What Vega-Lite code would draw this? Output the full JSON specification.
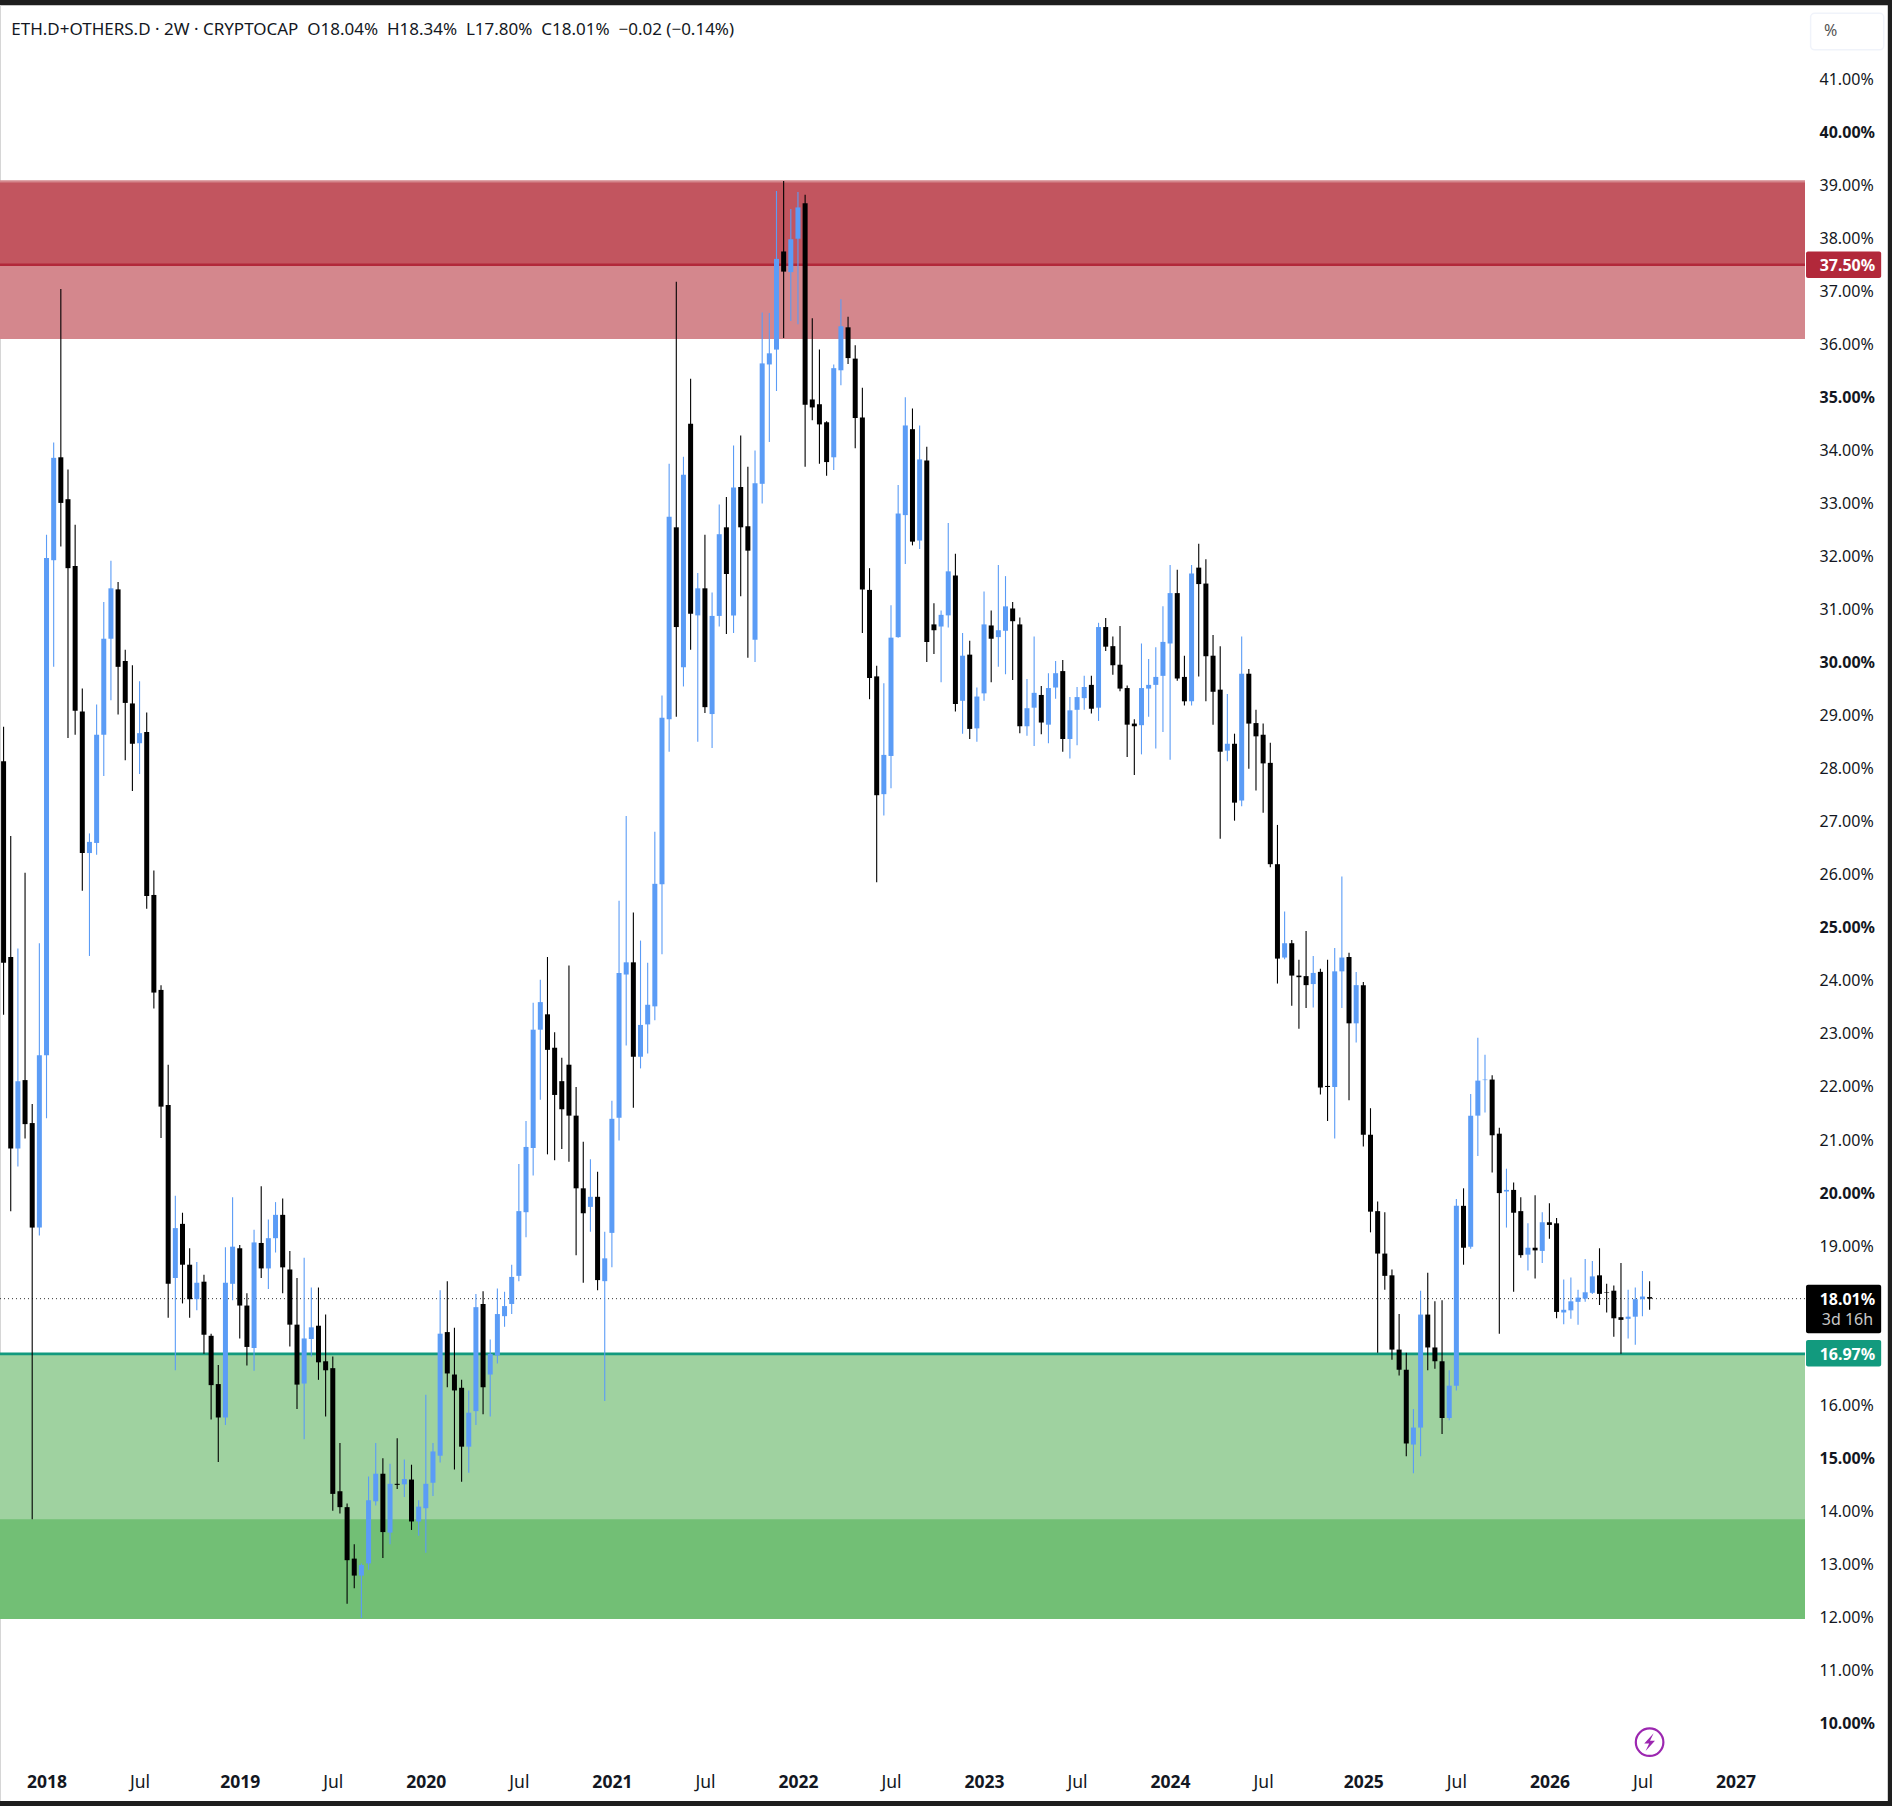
{
  "$schema": "https://vega.github.io/schema/vega-lite/v6.json",
  "width": 1805,
  "height": 1755,
  "autosize": "none",
  "padding": {"left": 0, "top": 0, "right": 87, "bottom": 51},
  "background": "#1e1e1e",
  "config": {
    "view": {"stroke": null},
    "font": "Noto Sans"
  },
  "datasets": {
    "panels": [
      {"name": "frame", "from": "2017-10-02", "to": "2027-11-12", "top": 42.39, "bottom": 8.54},
      {"name": "edge", "from": "2017-10-02", "to": "2017-10-04", "top": 42.39, "bottom": 8.54},
      {"name": "supply", "from": "2017-10-02", "to": "2027-06-03", "top": 39.09, "bottom": 36.1},
      {"name": "supply core", "from": "2017-10-02", "to": "2027-06-03", "top": 39.05, "bottom": 37.5},
      {"name": "demand", "from": "2017-10-02", "to": "2027-06-03", "top": 16.97, "bottom": 11.97},
      {"name": "demand core", "from": "2017-10-02", "to": "2027-06-03", "top": 13.85, "bottom": 11.97}
    ],
    "tags": [
      {"name": "red line", "from": "2027-06-05", "to": "2027-10-30", "top": 37.75, "bottom": 37.25},
      {"name": "green line", "from": "2027-06-05", "to": "2027-10-30", "top": 17.23, "bottom": 16.73},
      {"name": "last", "from": "2027-06-05", "to": "2027-10-30", "top": 18.27, "bottom": 17.36}
    ],
    "levels": [
      {"name": "red line", "from": "2017-10-02", "to": "2027-06-03", "level": 37.5},
      {"name": "green line", "from": "2017-10-02", "to": "2027-06-03", "level": 16.97}
    ],
    "lastPrice": [
      {"from": "2017-10-02", "to": "2027-06-03", "level": 18.01}
    ],
    "tagText": [
      {"at": "2027-08-25", "level": 37.5, "label": "37.50%"},
      {"at": "2027-08-25", "level": 18.01, "label": "18.01%"},
      {"at": "2027-08-25", "level": 16.97, "label": "16.97%"}
    ],
    "candles": [
      {"d":"2017-10-09","o":28.14,"h":28.79,"l":23.36,"c":24.34},
      {"d":"2017-10-23","o":24.45,"h":26.73,"l":19.66,"c":20.84},
      {"d":"2017-11-06","o":20.84,"h":24.61,"l":20.50,"c":22.11},
      {"d":"2017-11-20","o":22.13,"h":26.04,"l":21.03,"c":21.30},
      {"d":"2017-12-04","o":21.32,"h":21.68,"l":13.85,"c":19.35},
      {"d":"2017-12-18","o":19.35,"h":24.71,"l":19.20,"c":22.60},
      {"d":"2018-01-01","o":22.60,"h":32.41,"l":21.41,"c":31.97},
      {"d":"2018-01-15","o":31.93,"h":34.15,"l":29.92,"c":33.86},
      {"d":"2018-01-29","o":33.87,"h":37.04,"l":32.19,"c":33.01},
      {"d":"2018-02-12","o":33.08,"h":33.64,"l":28.58,"c":31.78},
      {"d":"2018-02-26","o":31.82,"h":32.60,"l":28.64,"c":29.09},
      {"d":"2018-03-12","o":29.08,"h":29.51,"l":25.70,"c":26.41},
      {"d":"2018-03-26","o":26.41,"h":26.78,"l":24.47,"c":26.62},
      {"d":"2018-04-09","o":26.60,"h":29.21,"l":26.38,"c":28.64},
      {"d":"2018-04-23","o":28.64,"h":31.14,"l":27.86,"c":30.45},
      {"d":"2018-05-07","o":30.45,"h":31.92,"l":29.29,"c":31.40},
      {"d":"2018-05-21","o":31.38,"h":31.52,"l":29.02,"c":29.92},
      {"d":"2018-06-04","o":30.03,"h":30.24,"l":28.16,"c":29.24},
      {"d":"2018-06-18","o":29.23,"h":29.95,"l":27.58,"c":28.47},
      {"d":"2018-07-02","o":28.48,"h":29.65,"l":27.90,"c":28.67},
      {"d":"2018-07-16","o":28.69,"h":29.06,"l":25.36,"c":25.60},
      {"d":"2018-07-30","o":25.62,"h":26.08,"l":23.48,"c":23.78},
      {"d":"2018-08-13","o":23.83,"h":23.92,"l":21.04,"c":21.63},
      {"d":"2018-08-27","o":21.66,"h":22.42,"l":17.65,"c":18.29},
      {"d":"2018-09-10","o":18.40,"h":19.95,"l":16.66,"c":19.34},
      {"d":"2018-09-24","o":19.42,"h":19.63,"l":17.92,"c":18.65},
      {"d":"2018-10-08","o":18.65,"h":18.96,"l":17.65,"c":18.00},
      {"d":"2018-10-22","o":18.00,"h":18.70,"l":17.79,"c":18.31},
      {"d":"2018-11-05","o":18.33,"h":18.46,"l":16.97,"c":17.33},
      {"d":"2018-11-19","o":17.31,"h":17.35,"l":15.73,"c":16.38},
      {"d":"2018-12-03","o":16.40,"h":16.76,"l":14.93,"c":15.77},
      {"d":"2018-12-17","o":15.77,"h":18.98,"l":15.63,"c":18.31},
      {"d":"2018-12-31","o":18.29,"h":19.92,"l":17.98,"c":18.99},
      {"d":"2019-01-14","o":18.96,"h":19.02,"l":17.26,"c":17.88},
      {"d":"2019-01-28","o":17.88,"h":18.11,"l":16.75,"c":17.10},
      {"d":"2019-02-11","o":17.08,"h":19.31,"l":16.65,"c":19.07},
      {"d":"2019-02-25","o":19.06,"h":20.13,"l":18.40,"c":18.58},
      {"d":"2019-03-11","o":18.58,"h":19.50,"l":18.19,"c":19.15},
      {"d":"2019-03-25","o":19.15,"h":19.83,"l":18.88,"c":19.59},
      {"d":"2019-04-08","o":19.59,"h":19.90,"l":18.11,"c":18.60},
      {"d":"2019-04-22","o":18.56,"h":18.91,"l":17.11,"c":17.52},
      {"d":"2019-05-06","o":17.52,"h":18.40,"l":15.93,"c":16.39},
      {"d":"2019-05-20","o":16.41,"h":18.78,"l":15.36,"c":17.26},
      {"d":"2019-06-03","o":17.25,"h":18.22,"l":16.92,"c":17.47},
      {"d":"2019-06-17","o":17.50,"h":18.22,"l":16.48,"c":16.81},
      {"d":"2019-07-01","o":16.83,"h":17.71,"l":15.79,"c":16.66},
      {"d":"2019-07-15","o":16.70,"h":16.92,"l":14.01,"c":14.33},
      {"d":"2019-07-29","o":14.38,"h":15.29,"l":13.96,"c":14.08},
      {"d":"2019-08-12","o":14.08,"h":14.15,"l":12.26,"c":13.08},
      {"d":"2019-08-26","o":13.11,"h":13.38,"l":12.55,"c":12.79},
      {"d":"2019-09-09","o":12.79,"h":13.02,"l":11.99,"c":12.99},
      {"d":"2019-09-23","o":13.02,"h":14.66,"l":12.90,"c":14.21},
      {"d":"2019-10-07","o":14.19,"h":15.29,"l":14.11,"c":14.71},
      {"d":"2019-10-21","o":14.71,"h":15.00,"l":13.12,"c":13.61},
      {"d":"2019-11-04","o":13.60,"h":14.90,"l":13.38,"c":14.52},
      {"d":"2019-11-18","o":14.52,"h":15.38,"l":14.42,"c":14.50},
      {"d":"2019-12-02","o":14.51,"h":14.98,"l":14.27,"c":14.61},
      {"d":"2019-12-16","o":14.60,"h":14.88,"l":13.65,"c":13.81},
      {"d":"2019-12-30","o":13.81,"h":14.21,"l":13.54,"c":14.09},
      {"d":"2020-01-13","o":14.06,"h":16.20,"l":13.22,"c":14.52},
      {"d":"2020-01-27","o":14.54,"h":15.29,"l":14.29,"c":15.13},
      {"d":"2020-02-10","o":15.05,"h":18.17,"l":14.92,"c":17.35},
      {"d":"2020-02-24","o":17.38,"h":18.34,"l":16.34,"c":16.60},
      {"d":"2020-03-09","o":16.58,"h":17.46,"l":14.79,"c":16.28},
      {"d":"2020-03-23","o":16.33,"h":16.48,"l":14.56,"c":15.22},
      {"d":"2020-04-06","o":15.22,"h":16.28,"l":14.73,"c":15.86},
      {"d":"2020-04-20","o":15.89,"h":18.10,"l":15.63,"c":17.85},
      {"d":"2020-05-04","o":17.91,"h":18.15,"l":15.83,"c":16.34},
      {"d":"2020-05-18","o":16.58,"h":17.24,"l":15.79,"c":16.97},
      {"d":"2020-06-01","o":16.94,"h":18.20,"l":16.79,"c":17.72},
      {"d":"2020-06-15","o":17.68,"h":18.14,"l":17.48,"c":17.87},
      {"d":"2020-06-29","o":17.91,"h":18.65,"l":17.72,"c":18.42},
      {"d":"2020-07-13","o":18.44,"h":20.55,"l":18.34,"c":19.66},
      {"d":"2020-07-27","o":19.64,"h":21.36,"l":19.17,"c":20.87},
      {"d":"2020-08-10","o":20.85,"h":23.59,"l":20.33,"c":23.08},
      {"d":"2020-08-24","o":23.08,"h":24.02,"l":21.76,"c":23.60},
      {"d":"2020-09-07","o":23.37,"h":24.45,"l":20.73,"c":22.70},
      {"d":"2020-09-21","o":22.74,"h":23.03,"l":20.62,"c":21.85},
      {"d":"2020-10-05","o":22.11,"h":22.55,"l":20.83,"c":21.58},
      {"d":"2020-10-19","o":22.42,"h":24.29,"l":20.59,"c":21.46},
      {"d":"2020-11-02","o":21.46,"h":22.00,"l":18.83,"c":20.09},
      {"d":"2020-11-16","o":20.09,"h":20.97,"l":18.31,"c":19.62},
      {"d":"2020-11-30","o":19.74,"h":20.64,"l":19.27,"c":19.93},
      {"d":"2020-12-14","o":19.93,"h":20.40,"l":18.17,"c":18.36},
      {"d":"2020-12-28","o":18.34,"h":19.27,"l":16.08,"c":18.77},
      {"d":"2021-01-11","o":19.25,"h":21.74,"l":18.60,"c":21.40},
      {"d":"2021-01-25","o":21.42,"h":25.51,"l":20.99,"c":24.15},
      {"d":"2021-02-08","o":24.12,"h":27.11,"l":22.78,"c":24.35},
      {"d":"2021-02-22","o":24.35,"h":25.29,"l":21.61,"c":22.57},
      {"d":"2021-03-08","o":22.57,"h":24.76,"l":22.35,"c":23.17},
      {"d":"2021-03-22","o":23.18,"h":24.34,"l":22.63,"c":23.55},
      {"d":"2021-04-05","o":23.52,"h":26.81,"l":23.26,"c":25.83},
      {"d":"2021-04-19","o":25.82,"h":29.38,"l":24.50,"c":28.96},
      {"d":"2021-05-03","o":28.93,"h":33.75,"l":28.32,"c":32.75},
      {"d":"2021-05-17","o":32.55,"h":37.18,"l":28.98,"c":30.67},
      {"d":"2021-05-31","o":29.91,"h":33.88,"l":29.55,"c":33.54},
      {"d":"2021-06-14","o":34.50,"h":35.35,"l":30.24,"c":30.92},
      {"d":"2021-06-28","o":30.89,"h":31.69,"l":28.51,"c":31.40},
      {"d":"2021-07-12","o":31.40,"h":32.41,"l":29.05,"c":29.16},
      {"d":"2021-07-26","o":29.03,"h":31.32,"l":28.39,"c":30.88},
      {"d":"2021-08-09","o":30.88,"h":32.98,"l":30.68,"c":32.42},
      {"d":"2021-08-23","o":32.55,"h":33.12,"l":30.54,"c":31.67},
      {"d":"2021-09-06","o":30.89,"h":34.09,"l":30.56,"c":33.30},
      {"d":"2021-09-20","o":33.31,"h":34.28,"l":31.25,"c":32.55},
      {"d":"2021-10-04","o":32.57,"h":33.69,"l":30.09,"c":32.11},
      {"d":"2021-10-18","o":30.43,"h":34.00,"l":30.01,"c":33.38},
      {"d":"2021-11-01","o":33.37,"h":36.60,"l":33.00,"c":35.64},
      {"d":"2021-11-15","o":35.62,"h":36.59,"l":34.16,"c":35.83},
      {"d":"2021-11-29","o":35.90,"h":38.89,"l":35.12,"c":37.61},
      {"d":"2021-12-13","o":37.75,"h":39.08,"l":36.12,"c":37.37},
      {"d":"2021-12-27","o":37.36,"h":38.55,"l":36.44,"c":37.98},
      {"d":"2022-01-10","o":37.99,"h":38.87,"l":36.38,"c":38.58},
      {"d":"2022-01-24","o":38.66,"h":38.82,"l":33.69,"c":34.86},
      {"d":"2022-02-07","o":34.96,"h":36.49,"l":34.57,"c":34.81},
      {"d":"2022-02-21","o":34.87,"h":35.90,"l":33.75,"c":34.49},
      {"d":"2022-03-07","o":34.53,"h":34.55,"l":33.52,"c":33.78},
      {"d":"2022-03-21","o":33.87,"h":35.62,"l":33.63,"c":35.55},
      {"d":"2022-04-04","o":35.51,"h":36.85,"l":35.23,"c":36.34},
      {"d":"2022-04-18","o":36.32,"h":36.52,"l":35.63,"c":35.74},
      {"d":"2022-05-02","o":35.73,"h":35.98,"l":34.04,"c":34.61},
      {"d":"2022-05-16","o":34.62,"h":35.18,"l":30.56,"c":31.38},
      {"d":"2022-05-30","o":31.37,"h":31.78,"l":29.31,"c":29.71},
      {"d":"2022-06-13","o":29.74,"h":29.94,"l":25.86,"c":27.50},
      {"d":"2022-06-27","o":27.52,"h":29.61,"l":27.12,"c":28.26},
      {"d":"2022-07-11","o":28.24,"h":31.08,"l":27.63,"c":30.47},
      {"d":"2022-07-25","o":30.48,"h":33.35,"l":30.47,"c":32.81},
      {"d":"2022-08-08","o":32.78,"h":35.00,"l":31.86,"c":34.47},
      {"d":"2022-08-22","o":34.40,"h":34.79,"l":32.21,"c":32.28},
      {"d":"2022-09-05","o":32.30,"h":34.47,"l":32.14,"c":33.83},
      {"d":"2022-09-19","o":33.81,"h":34.07,"l":30.01,"c":30.39},
      {"d":"2022-10-03","o":30.72,"h":31.12,"l":30.16,"c":30.61},
      {"d":"2022-10-17","o":30.68,"h":30.98,"l":29.63,"c":30.90},
      {"d":"2022-10-31","o":30.89,"h":32.63,"l":30.66,"c":31.72},
      {"d":"2022-11-14","o":31.64,"h":32.05,"l":29.08,"c":29.22},
      {"d":"2022-11-28","o":29.28,"h":30.56,"l":28.66,"c":30.13},
      {"d":"2022-12-12","o":30.15,"h":30.41,"l":28.56,"c":28.75},
      {"d":"2022-12-26","o":28.76,"h":29.53,"l":28.51,"c":29.36},
      {"d":"2023-01-09","o":29.42,"h":31.34,"l":29.28,"c":30.72},
      {"d":"2023-01-23","o":30.70,"h":30.98,"l":29.63,"c":30.45},
      {"d":"2023-02-06","o":30.48,"h":31.84,"l":29.92,"c":30.61},
      {"d":"2023-02-20","o":30.60,"h":31.63,"l":29.78,"c":31.06},
      {"d":"2023-03-06","o":31.02,"h":31.14,"l":29.67,"c":30.78},
      {"d":"2023-03-20","o":30.72,"h":30.85,"l":28.67,"c":28.80},
      {"d":"2023-04-03","o":28.80,"h":29.69,"l":28.62,"c":29.14},
      {"d":"2023-04-17","o":29.15,"h":30.49,"l":28.43,"c":29.43},
      {"d":"2023-05-01","o":29.39,"h":29.56,"l":28.65,"c":28.87},
      {"d":"2023-05-15","o":28.83,"h":29.80,"l":28.48,"c":29.52},
      {"d":"2023-05-29","o":29.53,"h":30.03,"l":29.32,"c":29.80},
      {"d":"2023-06-12","o":29.84,"h":30.05,"l":28.32,"c":28.56},
      {"d":"2023-06-26","o":28.56,"h":29.35,"l":28.19,"c":29.10},
      {"d":"2023-07-10","o":29.11,"h":29.54,"l":28.44,"c":29.35},
      {"d":"2023-07-24","o":29.33,"h":29.75,"l":29.11,"c":29.54},
      {"d":"2023-08-07","o":29.58,"h":29.75,"l":29.04,"c":29.13},
      {"d":"2023-08-21","o":29.15,"h":30.75,"l":28.90,"c":30.67},
      {"d":"2023-09-04","o":30.67,"h":30.84,"l":30.22,"c":30.30},
      {"d":"2023-09-18","o":30.31,"h":30.49,"l":29.77,"c":29.95},
      {"d":"2023-10-02","o":29.96,"h":30.69,"l":29.46,"c":29.51},
      {"d":"2023-10-16","o":29.52,"h":29.57,"l":28.22,"c":28.83},
      {"d":"2023-10-30","o":28.85,"h":28.93,"l":27.88,"c":28.80},
      {"d":"2023-11-13","o":28.82,"h":30.36,"l":28.27,"c":29.52},
      {"d":"2023-11-27","o":29.51,"h":30.07,"l":28.98,"c":29.58},
      {"d":"2023-12-11","o":29.58,"h":30.29,"l":28.38,"c":29.73},
      {"d":"2023-12-25","o":29.75,"h":31.06,"l":28.69,"c":30.39},
      {"d":"2024-01-08","o":30.36,"h":31.84,"l":28.17,"c":31.31},
      {"d":"2024-01-22","o":31.31,"h":31.75,"l":29.66,"c":29.70},
      {"d":"2024-02-05","o":29.73,"h":30.13,"l":29.19,"c":29.27},
      {"d":"2024-02-19","o":29.27,"h":31.84,"l":29.19,"c":31.68},
      {"d":"2024-03-04","o":31.79,"h":32.24,"l":29.74,"c":31.48},
      {"d":"2024-03-18","o":31.49,"h":31.95,"l":29.27,"c":30.12},
      {"d":"2024-04-01","o":30.13,"h":30.52,"l":28.83,"c":29.45},
      {"d":"2024-04-15","o":29.49,"h":30.31,"l":26.68,"c":28.32},
      {"d":"2024-04-29","o":28.34,"h":29.41,"l":28.14,"c":28.47},
      {"d":"2024-05-13","o":28.47,"h":28.66,"l":27.02,"c":27.36},
      {"d":"2024-05-27","o":27.40,"h":30.49,"l":27.29,"c":29.79},
      {"d":"2024-06-10","o":29.79,"h":29.88,"l":28.00,"c":28.85},
      {"d":"2024-06-24","o":28.86,"h":29.11,"l":27.59,"c":28.61},
      {"d":"2024-07-08","o":28.64,"h":28.85,"l":27.17,"c":28.10},
      {"d":"2024-07-22","o":28.11,"h":28.49,"l":26.14,"c":26.20},
      {"d":"2024-08-05","o":26.20,"h":26.94,"l":23.95,"c":24.42},
      {"d":"2024-08-19","o":24.44,"h":25.31,"l":24.41,"c":24.71},
      {"d":"2024-09-02","o":24.71,"h":24.77,"l":23.53,"c":24.10},
      {"d":"2024-09-16","o":24.10,"h":24.40,"l":23.10,"c":24.07},
      {"d":"2024-09-30","o":24.09,"h":24.94,"l":23.49,"c":23.92},
      {"d":"2024-10-14","o":23.94,"h":24.47,"l":23.50,"c":24.15},
      {"d":"2024-10-28","o":24.17,"h":24.23,"l":21.86,"c":21.99},
      {"d":"2024-11-11","o":22.02,"h":24.40,"l":21.36,"c":22.00},
      {"d":"2024-11-25","o":22.00,"h":24.62,"l":21.03,"c":24.18},
      {"d":"2024-12-09","o":24.18,"h":25.97,"l":23.49,"c":24.44},
      {"d":"2024-12-23","o":24.45,"h":24.53,"l":21.75,"c":23.20},
      {"d":"2025-01-06","o":23.20,"h":24.17,"l":22.84,"c":23.92},
      {"d":"2025-01-20","o":23.92,"h":23.98,"l":20.88,"c":21.10},
      {"d":"2025-02-03","o":21.10,"h":21.60,"l":19.26,"c":19.65},
      {"d":"2025-02-17","o":19.66,"h":19.84,"l":16.99,"c":18.86},
      {"d":"2025-03-03","o":18.86,"h":19.64,"l":18.18,"c":18.44},
      {"d":"2025-03-17","o":18.45,"h":18.56,"l":16.86,"c":17.05},
      {"d":"2025-03-31","o":17.05,"h":17.72,"l":16.56,"c":16.67},
      {"d":"2025-04-14","o":16.67,"h":16.99,"l":15.04,"c":15.28},
      {"d":"2025-04-28","o":15.26,"h":15.93,"l":14.72,"c":15.58},
      {"d":"2025-05-12","o":15.58,"h":18.16,"l":15.04,"c":17.71},
      {"d":"2025-05-26","o":17.71,"h":18.50,"l":16.66,"c":17.09},
      {"d":"2025-06-09","o":17.09,"h":17.96,"l":16.69,"c":16.83},
      {"d":"2025-06-23","o":16.83,"h":17.98,"l":15.46,"c":15.76},
      {"d":"2025-07-07","o":15.76,"h":16.66,"l":15.72,"c":16.37},
      {"d":"2025-07-21","o":16.37,"h":19.89,"l":16.28,"c":19.76},
      {"d":"2025-08-04","o":19.76,"h":20.09,"l":18.65,"c":18.97},
      {"d":"2025-08-18","o":18.99,"h":21.87,"l":18.95,"c":21.46},
      {"d":"2025-09-01","o":21.46,"h":22.93,"l":20.70,"c":22.12},
      {"d":"2025-09-15","o":22.13,"h":22.61,"l":21.52,"c":22.14},
      {"d":"2025-09-29","o":22.14,"h":22.22,"l":20.39,"c":21.09},
      {"d":"2025-10-13","o":21.12,"h":21.23,"l":17.35,"c":20.00},
      {"d":"2025-10-27","o":20.03,"h":20.46,"l":19.35,"c":20.06},
      {"d":"2025-11-10","o":20.06,"h":20.20,"l":18.14,"c":19.63},
      {"d":"2025-11-24","o":19.66,"h":19.92,"l":18.78,"c":18.83},
      {"d":"2025-12-08","o":18.84,"h":19.43,"l":18.54,"c":18.97},
      {"d":"2025-12-22","o":18.97,"h":19.96,"l":18.39,"c":18.92},
      {"d":"2026-01-05","o":18.91,"h":19.64,"l":18.68,"c":19.45},
      {"d":"2026-01-19","o":19.45,"h":19.81,"l":19.14,"c":19.40},
      {"d":"2026-02-02","o":19.43,"h":19.53,"l":17.64,"c":17.76},
      {"d":"2026-02-16","o":17.75,"h":18.37,"l":17.53,"c":17.80},
      {"d":"2026-03-02","o":17.79,"h":18.41,"l":17.63,"c":17.96},
      {"d":"2026-03-16","o":17.95,"h":18.18,"l":17.52,"c":18.03},
      {"d":"2026-03-30","o":18.01,"h":18.76,"l":17.95,"c":18.13},
      {"d":"2026-04-13","o":18.12,"h":18.72,"l":18.10,"c":18.43},
      {"d":"2026-04-27","o":18.45,"h":18.96,"l":17.89,"c":18.10},
      {"d":"2026-05-11","o":18.13,"h":18.29,"l":17.75,"c":18.12},
      {"d":"2026-05-25","o":18.16,"h":18.26,"l":17.29,"c":17.64},
      {"d":"2026-06-08","o":17.66,"h":18.68,"l":16.97,"c":17.61},
      {"d":"2026-06-22","o":17.63,"h":18.18,"l":17.26,"c":17.67},
      {"d":"2026-07-06","o":17.67,"h":18.22,"l":17.14,"c":18.00},
      {"d":"2026-07-20","o":18.00,"h":18.53,"l":17.68,"c":18.05},
      {"d":"2026-08-03","o":18.04,"h":18.34,"l":17.80,"c":18.01}
    ]
  },
  "layer": [
    {
      "data": {"name": "panels"},
      "mark": {"type": "rect"},
      "encoding": {
        "x": {
          "field": "from", "type": "temporal", "title": null,
          "scale": {"type": "utc", "domain": ["2017-10-02", "2027-06-03"], "nice": false, "padding": 0},
          "axis": {
            "orient": "bottom", "zindex": 1, "domain": false, "ticks": false, "grid": false,
            "labelPadding": 18, "labelFontSize": 17.5, "labelColor": "#131722", "labelFlush": false, "labelOverlap": false,
            "values": ["2018-01-01","2018-07-02","2019-01-14","2019-07-15","2020-01-13","2020-07-13","2021-01-11","2021-07-12","2022-01-10","2022-07-11","2023-01-09","2023-07-10","2024-01-08","2024-07-08","2025-01-20","2025-07-21","2026-01-19","2026-07-20","2027-01-18"],
            "labelExpr": "utcFormat(datum.value, '%m') == '07' ? 'Jul' : utcFormat(datum.value, '%Y')",
            "labelFontWeight": {"condition": {"test": "utcFormat(datum.value, '%m') != '07'", "value": 700}, "value": 400},
            "labelBound": false
          }
        },
        "x2": {"field": "to"},
        "y": {
          "field": "top", "type": "quantitative", "title": null,
          "scale": {"domain": [9.408, 42.49], "nice": false, "zero": false, "padding": 0},
          "axis": {
            "orient": "right", "zindex": 1, "domain": false, "ticks": false, "grid": false,
            "labelPadding": 14, "labelFontSize": 16, "labelColor": "#131722", "labelAlign": "left", "labelOverlap": false, "labelBound": false, "labelFlush": false,
            "values": [10,11,12,13,14,15,16,19,20,21,22,23,24,25,26,27,28,29,30,31,32,33,34,35,36,37,38,39,40,41],
            "format": ".2f",
            "labelExpr": "datum.label + '%'",
            "labelFontWeight": {"condition": {"test": "datum.value % 5 == 0", "value": 700}, "value": 400}
          }
        },
        "y2": {"field": "bottom"},
        "color": {
          "field": "name", "type": "nominal", "legend": null,
          "scale": {
            "domain": ["frame", "edge", "supply", "supply core", "demand", "demand core", "red line", "green line", "last"],
            "range": ["#ffffff", "#d6d6d6", "#d4878d", "#c2555f", "#9fd2a0", "#72bf75", "#b2283a", "#129a7e", "#000000"]
          }
        }
      }
    },
    {
      "data": {"name": "levels"},
      "mark": {"type": "rule", "strokeWidth": 2.6},
      "encoding": {
        "x": {"field": "from", "type": "temporal", "title": null},
        "x2": {"field": "to"},
        "y": {"field": "level", "type": "quantitative", "title": null},
        "color": {"field": "name", "type": "nominal", "legend": null}
      }
    },
    {
      "data": {"name": "lastPrice"},
      "mark": {"type": "rule", "strokeWidth": 1, "color": "#333333", "strokeDash": [1, 3]},
      "encoding": {
        "x": {"field": "from", "type": "temporal", "title": null},
        "x2": {"field": "to"},
        "y": {"field": "level", "type": "quantitative", "title": null}
      }
    },
    {
      "data": {"name": "candles"},
      "mark": {"type": "rule", "strokeWidth": 1.1},
      "encoding": {
        "x": {"field": "d", "type": "temporal", "title": null},
        "y": {"field": "l", "type": "quantitative", "title": null},
        "y2": {"field": "h"},
        "color": {"condition": {"test": "datum.c >= datum.o", "value": "#5b9cf6"}, "value": "#000000"}
      }
    },
    {
      "data": {"name": "candles"},
      "mark": {"type": "bar", "size": 5, "orient": "vertical"},
      "encoding": {
        "x": {"field": "d", "type": "temporal", "title": null},
        "y": {"field": "o", "type": "quantitative", "title": null},
        "y2": {"field": "c"},
        "color": {"condition": {"test": "datum.c >= datum.o", "value": "#5b9cf6"}, "value": "#000000"}
      }
    },
    {
      "data": {"name": "tags"},
      "mark": {"type": "rect", "cornerRadius": 2},
      "encoding": {
        "x": {"field": "from", "type": "temporal", "title": null},
        "x2": {"field": "to"},
        "y": {"field": "top", "type": "quantitative", "title": null},
        "y2": {"field": "bottom"},
        "color": {"field": "name", "type": "nominal", "legend": null}
      }
    },
    {
      "data": {"name": "tagText"},
      "mark": {"type": "text", "font": "Noto Sans", "fontSize": 16, "fontWeight": 700, "color": "#ffffff", "dy": 1},
      "encoding": {
        "x": {"field": "at", "type": "temporal", "title": null},
        "y": {"field": "level", "type": "quantitative", "title": null},
        "text": {"field": "label"}
      }
    },
    {
      "data": {"values": [{"at": "2027-08-25", "level": 17.62, "label": "3d 16h"}]},
      "mark": {"type": "text", "font": "Noto Sans", "fontSize": 16, "color": "#c8c8c8", "dy": 1},
      "encoding": {
        "x": {"field": "at", "type": "temporal", "title": null},
        "y": {"field": "level", "type": "quantitative", "title": null},
        "text": {"field": "label"}
      }
    },
    {
      "data": {"values": [{"from": "2027-06-14", "to": "2027-11-04", "top": 42.24, "bottom": 41.55}]},
      "mark": {"type": "rect", "cornerRadius": 4, "fill": "#ffffff", "stroke": "#f0f3fa", "strokeWidth": 1.5},
      "encoding": {
        "x": {"field": "from", "type": "temporal", "title": null},
        "x2": {"field": "to"},
        "y": {"field": "top", "type": "quantitative", "title": null},
        "y2": {"field": "bottom"}
      }
    },
    {
      "data": {"values": [{"at": "2027-07-23", "level": 41.9, "label": "%"}]},
      "mark": {"type": "text", "font": "Noto Sans", "fontSize": 16, "color": "#555555"},
      "encoding": {
        "x": {"field": "at", "type": "temporal", "title": null},
        "y": {"field": "level", "type": "quantitative", "title": null},
        "text": {"field": "label"}
      }
    },
    {
      "data": {"values": [{"at": "2017-10-24", "level": 41.92, "label": "ETH.D+OTHERS.D\u00a0· 2W\u00a0· CRYPTOCAP\u00a0\u00a0O18.04%\u00a0\u00a0H18.34%\u00a0\u00a0L17.80%\u00a0\u00a0C18.01%\u00a0\u00a0−0.02 (−0.14%)"}]},
      "mark": {"type": "text", "font": "Noto Sans", "fontSize": 17, "align": "left", "color": "#131722"},
      "encoding": {
        "x": {"field": "at", "type": "temporal", "title": null},
        "y": {"field": "level", "type": "quantitative", "title": null},
        "text": {"field": "label"}
      }
    },
    {
      "data": {"values": [{"at": "2026-08-03", "level": 9.65}]},
      "mark": {"type": "point", "shape": "circle", "filled": false, "size": 760, "stroke": "#9c27b0", "strokeWidth": 2.2, "opacity": 1},
      "encoding": {
        "x": {"field": "at", "type": "temporal", "title": null},
        "y": {"field": "level", "type": "quantitative", "title": null}
      }
    },
    {
      "data": {"values": [{"at": "2026-08-03", "level": 9.65}]},
      "mark": {"type": "point", "shape": "M0.45,-1 L-0.6,0.15 L-0.05,0.15 L-0.45,1 L0.6,-0.15 L0.05,-0.15 Z", "filled": true, "size": 320, "color": "#9c27b0", "opacity": 1},
      "encoding": {
        "x": {"field": "at", "type": "temporal", "title": null},
        "y": {"field": "level", "type": "quantitative", "title": null}
      }
    }
  ]
}
